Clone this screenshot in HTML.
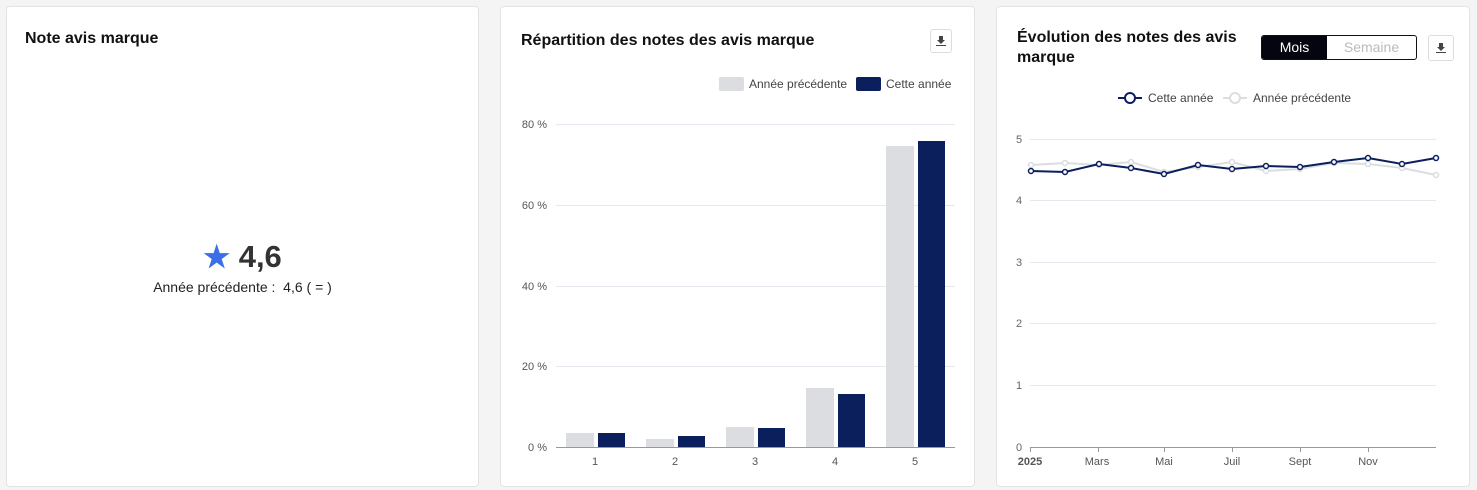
<!DOCTYPE html>
<html><head><meta charset="utf-8"><style>
body{margin:0;width:1477px;height:490px;background:#f4f4f4;font-family:"Liberation Sans",sans-serif;position:relative;overflow:hidden}
.card{position:absolute;top:6px;height:481px;background:#fff;border:1px solid #e3e3e3;border-radius:4px;box-sizing:border-box}
.t{position:absolute;font-weight:bold;font-size:16px;color:#111}
.dl{position:absolute;width:22px;height:24px;border:1px solid #ddd;border-radius:3px;box-sizing:border-box}
.dl svg{position:absolute;left:50%;top:50%;margin:-5px 0 0 -5px}
svg text{font-family:"Liberation Sans",sans-serif}
</style></head><body>
<div class="card" style="left:6px;width:473px">
<div class="t" style="left:18px;top:23px">Note avis marque</div>
<div style="position:absolute;left:0;width:100%;top:232px;text-align:center;font-size:31px;font-weight:bold;color:#333"><span style="color:#3b6fe8;font-size:30px">★</span> 4,6</div>
<div style="position:absolute;left:0;width:100%;top:272px;text-align:center;font-size:14px;color:#222">Année précédente :&nbsp; 4,6 ( = )</div>
</div>
<div class="card" style="left:500px;width:475px">
<div class="t" style="left:20px;top:25px">Répartition des notes des avis marque</div>
<div class="dl" style="left:429px;top:22px"><svg width="10" height="10"><path d="M3 0h4v4h2L5 8 1 4h2z M0 9h10v1H0z" fill="#444"/></svg></div>
</div>
<div class="card" style="left:996px;width:474px">
<div class="t" style="left:20px;top:21px;line-height:20px">Évolution des notes des avis<br>marque</div>
<div style="position:absolute;left:264px;top:28px;width:156px;height:25px;border:1px solid #111;border-radius:3px;box-sizing:border-box;font-size:14px;overflow:hidden">
<div style="position:absolute;left:0;top:0;width:65px;height:100%;background:#05050f;color:#fff;text-align:center;line-height:23px">Mois</div>
<div style="position:absolute;left:65px;top:0;right:0;height:100%;color:#bbb;text-align:center;line-height:23px">Semaine</div></div>
<div class="dl" style="left:431px;top:28px;height:26px;width:26px"><svg width="10" height="10"><path d="M3 0h4v4h2L5 8 1 4h2z M0 9h10v1H0z" fill="#444"/></svg></div>
</div>
<svg width="1477" height="490" style="position:absolute;left:0;top:0">
<g font-size="12" fill="#444">
<rect x="719" y="77" width="25" height="14" rx="2" fill="#dcdde0"/><text x="749" y="88">Année précédente</text>
<rect x="856" y="77" width="25" height="14" rx="2" fill="#0a1f5c"/><text x="886" y="88">Cette année</text>
</g>
<g stroke="#e6e8ef" stroke-width="1">
<line x1="556" x2="955" y1="124.5" y2="124.5"/><line x1="556" x2="955" y1="205.5" y2="205.5"/><line x1="556" x2="955" y1="286.5" y2="286.5"/><line x1="556" x2="955" y1="366.5" y2="366.5"/>
</g>
<line x1="556" x2="955" y1="447.5" y2="447.5" stroke="#999"/>
<g font-size="11" fill="#555" text-anchor="end">
<text x="547" y="128">80 %</text><text x="547" y="209">60 %</text><text x="547" y="290">40 %</text><text x="547" y="370">20 %</text><text x="547" y="451">0 %</text></g>
<g font-size="11" fill="#555" text-anchor="middle">
<text x="595" y="465">1</text><text x="675" y="465">2</text><text x="755" y="465">3</text><text x="835" y="465">4</text><text x="915" y="465">5</text></g>
<g fill="#dcdde0">
<rect x="566" y="433" width="28" height="14"/><rect x="646" y="439" width="28" height="8"/><rect x="726" y="427" width="28" height="20"/><rect x="806" y="388" width="28" height="59"/><rect x="886" y="146" width="28" height="301"/></g>
<g fill="#0a1f5c">
<rect x="598" y="433" width="27" height="14"/><rect x="678" y="436" width="27" height="11"/><rect x="758" y="428" width="27" height="19"/><rect x="838" y="394" width="27" height="53"/><rect x="918" y="141" width="27" height="306"/></g>
<g font-size="12" fill="#444">
<line x1="1118" x2="1142" y1="98" y2="98" stroke="#0a1f5c" stroke-width="2"/><circle cx="1130" cy="98" r="5" fill="#fff" stroke="#0a1f5c" stroke-width="2"/><text x="1148" y="102">Cette année</text>
<line x1="1223" x2="1247" y1="98" y2="98" stroke="#dcdde0" stroke-width="2"/><circle cx="1235" cy="98" r="5" fill="#fff" stroke="#dcdde0" stroke-width="2"/><text x="1253" y="102">Année précédente</text></g>
<g stroke="#e6e8ef">
<line x1="1030" x2="1436" y1="139.5" y2="139.5"/><line x1="1030" x2="1436" y1="200.5" y2="200.5"/><line x1="1030" x2="1436" y1="262.5" y2="262.5"/><line x1="1030" x2="1436" y1="323.5" y2="323.5"/><line x1="1030" x2="1436" y1="385.5" y2="385.5"/></g>
<line x1="1030" x2="1436" y1="447.5" y2="447.5" stroke="#999"/>
<g font-size="11" fill="#666"><text x="1016" y="143">5</text><text x="1016" y="204">4</text><text x="1016" y="266">3</text><text x="1016" y="327">2</text><text x="1016" y="389">1</text><text x="1016" y="451">0</text></g>
<g stroke="#999"><line x1="1030.5" x2="1030.5" y1="447" y2="452"/><line x1="1098.5" x2="1098.5" y1="447" y2="452"/><line x1="1164.5" x2="1164.5" y1="447" y2="452"/><line x1="1232.5" x2="1232.5" y1="447" y2="452"/><line x1="1300.5" x2="1300.5" y1="447" y2="452"/><line x1="1368.5" x2="1368.5" y1="447" y2="452"/></g>
<g font-size="11" fill="#555" text-anchor="middle"><text x="1030" y="465" font-weight="bold">2025</text><text x="1097" y="465">Mars</text><text x="1164" y="465">Mai</text><text x="1232" y="465">Juil</text><text x="1300" y="465">Sept</text><text x="1368" y="465">Nov</text></g>
<polyline fill="none" stroke="#dcdde0" stroke-width="2" points="1031,165 1065,163 1099,165 1131,162 1164,172 1198,167 1232,162 1266,171 1300,169 1334,163 1368,164 1402,168 1436,175"/>
<g fill="#fff" stroke="#dcdde0" stroke-width="1.5"><circle cx="1031" cy="165" r="2.5"/><circle cx="1065" cy="163" r="2.5"/><circle cx="1099" cy="165" r="2.5"/><circle cx="1131" cy="162" r="2.5"/><circle cx="1164" cy="172" r="2.5"/><circle cx="1198" cy="167" r="2.5"/><circle cx="1232" cy="162" r="2.5"/><circle cx="1266" cy="171" r="2.5"/><circle cx="1300" cy="169" r="2.5"/><circle cx="1334" cy="163" r="2.5"/><circle cx="1368" cy="164" r="2.5"/><circle cx="1402" cy="168" r="2.5"/><circle cx="1436" cy="175" r="2.5"/></g>
<polyline fill="none" stroke="#0a1f5c" stroke-width="2" points="1031,171 1065,172 1099,164 1131,168 1164,174 1198,165 1232,169 1266,166 1300,167 1334,162 1368,158 1402,164 1436,158"/>
<g fill="#fff" stroke="#0a1f5c" stroke-width="1.5"><circle cx="1031" cy="171" r="2.5"/><circle cx="1065" cy="172" r="2.5"/><circle cx="1099" cy="164" r="2.5"/><circle cx="1131" cy="168" r="2.5"/><circle cx="1164" cy="174" r="2.5"/><circle cx="1198" cy="165" r="2.5"/><circle cx="1232" cy="169" r="2.5"/><circle cx="1266" cy="166" r="2.5"/><circle cx="1300" cy="167" r="2.5"/><circle cx="1334" cy="162" r="2.5"/><circle cx="1368" cy="158" r="2.5"/><circle cx="1402" cy="164" r="2.5"/><circle cx="1436" cy="158" r="2.5"/></g>
</svg>
</body></html>
